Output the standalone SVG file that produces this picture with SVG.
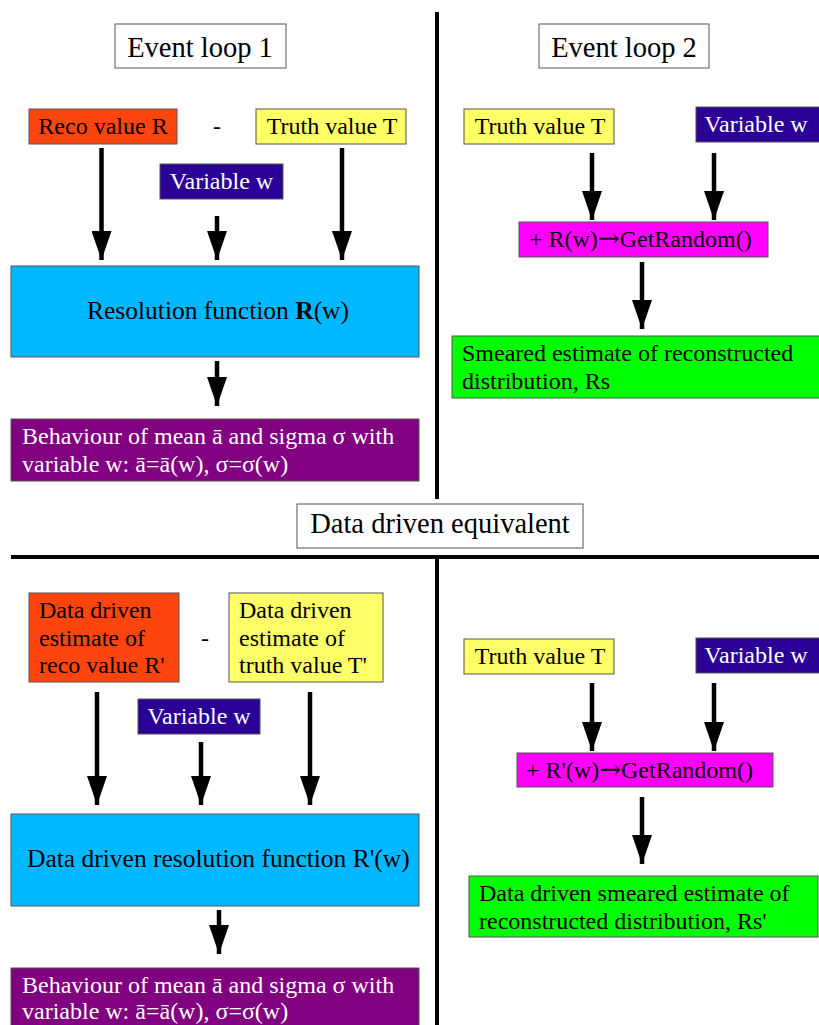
<svg xmlns="http://www.w3.org/2000/svg" width="819" height="1025" viewBox="0 0 819 1025">
<defs>
<style>
.t{font-family:"Liberation Serif","Times New Roman",serif;font-size:24px;fill:#000}
.w{fill:#fff}
.big{font-size:28.5px}
.mid{font-size:25.5px}
.c{text-anchor:middle}
.ar{font-family:"DejaVu Serif",serif;font-size:26px}
.box{stroke:#555;stroke-width:1}
.title{fill:#fff}
.orange{fill:#ff450e}
.yellow{fill:#ffff66}
.navy{fill:#2a0096}
.blue{fill:#00b8ff}
.purple{fill:#800080}
.magenta{fill:#ff00ff}
.green{fill:#00ff00}
.arr{stroke:#000;stroke-width:4.5;fill:none;marker-end:url(#ah)}
.div{stroke:#000;stroke-width:4;fill:none}
</style>
<marker id="ah" viewBox="0 0 29 20" refX="29" refY="10" markerWidth="29" markerHeight="20" markerUnits="userSpaceOnUse" orient="auto">
<path d="M0,0 L29,10 L0,20 z" fill="#000"/>
</marker>
</defs>
<rect width="819" height="1025" fill="#fff"/>

<g id="dividers">
<line class="div" x1="437" y1="12" x2="437" y2="499"/>
<line class="div" x1="11" y1="557" x2="819" y2="557"/>
<line class="div" x1="437" y1="557" x2="437" y2="1025"/>
</g>

<g id="title1"><rect class="box title" x="115" y="24" width="171" height="44"/><text class="t big c" x="200" y="57">Event loop 1</text></g>
<g id="title2"><rect class="box title" x="539" y="24" width="170" height="44"/><text class="t big c" x="624" y="57">Event loop 2</text></g>
<g id="title3"><rect class="box title" x="297" y="504" width="286" height="44"/><text class="t big c" x="440" y="533">Data driven equivalent</text></g>

<g id="reco1"><rect class="box orange" x="29" y="109" width="148" height="35"/><text class="t c" x="103" y="134">Reco value R</text></g>
<text class="t c" x="217" y="134">-</text>
<g id="truth1"><rect class="box yellow" x="256" y="109" width="150" height="35"/><text class="t c" x="332" y="134">Truth value T</text></g>
<g id="var1"><rect class="box navy" x="160" y="164" width="123" height="35"/><text class="t w c" x="221.5" y="189">Variable w</text></g>
<g id="res1"><rect class="box blue" x="11" y="266" width="408" height="91"/><text class="t mid c" x="218" y="319">Resolution function <tspan font-weight="bold">R</tspan>(w)</text></g>
<g id="beh1"><rect class="box purple" x="11" y="419" width="408" height="62"/><text class="t w" x="22" y="444">Behaviour of mean ā and sigma σ with</text><text class="t w" x="22" y="472">variable w: ā=ā(w), σ=σ(w)</text></g>

<g id="truth2"><rect class="box yellow" x="464" y="109" width="150" height="35"/><text class="t c" x="540" y="134">Truth value T</text></g>
<g id="var2"><rect class="box navy" x="696" y="107" width="124" height="35"/><text class="t w c" x="756" y="132">Variable w</text></g>
<g id="rand2"><rect class="box magenta" x="519" y="222" width="249" height="35"/><text class="t" x="529" y="247">+ R(w)<tspan class="ar">→</tspan>GetRandom()</text></g>
<g id="smear2"><rect class="box green" x="452" y="336" width="370" height="62"/><text class="t" x="462" y="361">Smeared estimate of reconstructed</text><text class="t" x="462" y="389">distribution, Rs</text></g>

<g id="reco3"><rect class="box orange" x="29" y="593" width="150" height="89"/><text class="t" x="39" y="618">Data driven</text><text class="t" x="39" y="646">estimate of</text><text class="t" x="39" y="673">reco value R'</text></g>
<text class="t c" x="205" y="646">-</text>
<g id="truth3"><rect class="box yellow" x="229" y="593" width="154" height="89"/><text class="t" x="239" y="618">Data driven</text><text class="t" x="239" y="646">estimate of</text><text class="t" x="239" y="673">truth value T'</text></g>
<g id="var3"><rect class="box navy" x="138" y="699" width="122" height="35"/><text class="t w c" x="199" y="724">Variable w</text></g>
<g id="res3"><rect class="box blue" x="11" y="814" width="408" height="92"/><text class="t mid" x="27" y="867">Data driven resolution function R'(w)</text></g>
<g id="beh3"><rect class="box purple" x="11" y="968" width="408" height="62"/><text class="t w" x="22" y="993">Behaviour of mean ā and sigma σ with</text><text class="t w" x="22" y="1019">variable w: ā=ā(w), σ=σ(w)</text></g>

<g id="truth4"><rect class="box yellow" x="464" y="639" width="150" height="35"/><text class="t c" x="540" y="664">Truth value T</text></g>
<g id="var4"><rect class="box navy" x="696" y="638" width="124" height="35"/><text class="t w c" x="756" y="663">Variable w</text></g>
<g id="rand4"><rect class="box magenta" x="517" y="753" width="256" height="34"/><text class="t" x="526" y="778">+ R'(w)<tspan class="ar">→</tspan>GetRandom()</text></g>
<g id="smear4"><rect class="box green" x="469" y="876" width="349" height="61"/><text class="t" x="479" y="901">Data driven smeared estimate of</text><text class="t" x="479" y="929">reconstructed distribution, Rs'</text></g>

<g id="connectors">
<line class="arr" x1="101.5" y1="148" x2="101.5" y2="260"/>
<line class="arr" x1="217" y1="216" x2="217" y2="260"/>
<line class="arr" x1="342" y1="148" x2="342" y2="260"/>
<line class="arr" x1="217" y1="361" x2="217" y2="406"/>
<line class="arr" x1="592" y1="153" x2="592" y2="220"/>
<line class="arr" x1="714" y1="153" x2="714" y2="220"/>
<line class="arr" x1="642" y1="262" x2="642" y2="329"/>
<line class="arr" x1="97" y1="692" x2="97" y2="805"/>
<line class="arr" x1="201" y1="742" x2="201" y2="805"/>
<line class="arr" x1="310" y1="692" x2="310" y2="805"/>
<line class="arr" x1="219" y1="910" x2="219" y2="954"/>
<line class="arr" x1="592" y1="683" x2="592" y2="751"/>
<line class="arr" x1="714" y1="683" x2="714" y2="751"/>
<line class="arr" x1="642" y1="797" x2="642" y2="864"/>
</g>
</svg>
